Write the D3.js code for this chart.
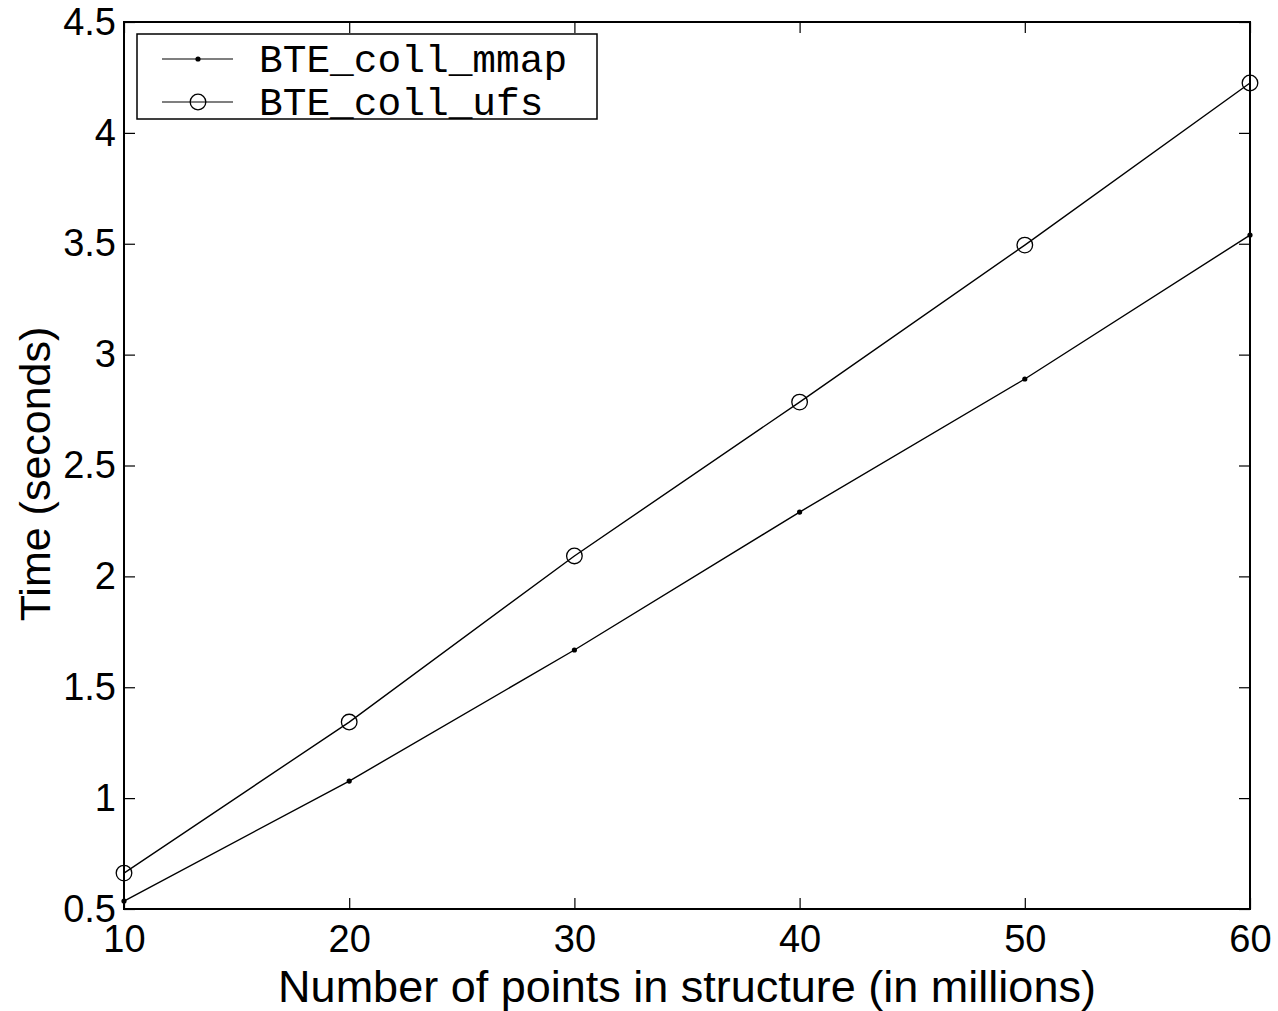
<!DOCTYPE html>
<html>
<head>
<meta charset="utf-8">
<script src="https://cdn.jsdelivr.net/npm/d3@7"></script>
<style>
  body { margin: 0; background: #fff; }
  svg { display: block; }
  .tick text { font-family: "Liberation Sans", Arial, sans-serif; font-size: 38px; fill: #000; }
</style>
</head>
<body>
<div id="chart"></div>
<script>
// data
var xValues = [10, 20, 30, 40, 50, 60];
var mmapTimes = [0.536, 1.077, 1.668, 2.290, 2.890, 3.539];
var ufsTimes = [0.662, 1.343, 2.092, 2.786, 3.494, 4.225];
var seriesNames = ["BTE_coll_mmap", "BTE_coll_ufs"];
var xTicks = [10, 20, 30, 40, 50, 60];
var yTicks = [0.5, 1, 1.5, 2, 2.5, 3, 3.5, 4, 4.5];

var width = 1278, height = 1011;
var margin = {top: 22, right: 28, bottom: 102, left: 124};
var plotW = width - margin.left - margin.right;
var plotH = height - margin.top - margin.bottom;

var svg = d3.select("#chart").append("svg")
    .attr("width", width)
    .attr("height", height);

var g = svg.append("g")
    .attr("transform", "translate(" + margin.left + "," + margin.top + ")");

var x = d3.scaleLinear().domain([10, 60]).range([0, plotW]);
var y = d3.scaleLinear().domain([0.5, 4.5]).range([plotH, 0]);

var tickLen = 11;

// bottom axis, ticks pointing inside
var xAxis = g.append("g")
    .attr("transform", "translate(0," + plotH + ")")
    .call(d3.axisBottom(x).tickValues(xTicks).tickSizeInner(-tickLen).tickSizeOuter(0).tickPadding(16)
        .tickFormat(d3.format("d")));
xAxis.select(".domain").remove();

// top ticks
var xTop = g.append("g")
    .call(d3.axisTop(x).tickValues(xTicks).tickSizeInner(-tickLen).tickSizeOuter(0).tickFormat(""));
xTop.select(".domain").remove();

// left axis
var yAxis = g.append("g")
    .call(d3.axisLeft(y).tickValues(yTicks).tickSizeInner(-tickLen).tickSizeOuter(0).tickPadding(8)
        .tickFormat(function (d) { return String(d); }));
yAxis.select(".domain").remove();

// right ticks
var yRight = g.append("g")
    .attr("transform", "translate(" + plotW + ",0)")
    .call(d3.axisRight(y).tickValues(yTicks).tickSizeInner(-tickLen).tickSizeOuter(0).tickFormat(""));
yRight.select(".domain").remove();

g.selectAll(".tick line").attr("stroke", "#000").attr("stroke-width", 1.2);

// box around the plot
g.append("rect")
    .attr("x", 0).attr("y", 0)
    .attr("width", plotW).attr("height", plotH)
    .attr("fill", "none")
    .attr("stroke", "#000")
    .attr("stroke-width", 2);

var line = d3.line()
    .x(function (d) { return x(d[0]); })
    .y(function (d) { return y(d[1]); });

var mmapData = xValues.map(function (v, i) { return [v, mmapTimes[i]]; });
var ufsData = xValues.map(function (v, i) { return [v, ufsTimes[i]]; });

g.append("path").datum(mmapData)
    .attr("d", line).attr("fill", "none").attr("stroke", "#000").attr("stroke-width", 1.4);
g.append("path").datum(ufsData)
    .attr("d", line).attr("fill", "none").attr("stroke", "#000").attr("stroke-width", 1.4);

g.selectAll("circle.mmap").data(mmapData).enter().append("circle")
    .attr("class", "mmap")
    .attr("cx", function (d) { return x(d[0]); })
    .attr("cy", function (d) { return y(d[1]); })
    .attr("r", 2.6)
    .attr("fill", "#000");

g.selectAll("circle.ufs").data(ufsData).enter().append("circle")
    .attr("class", "ufs")
    .attr("cx", function (d) { return x(d[0]); })
    .attr("cy", function (d) { return y(d[1]); })
    .attr("r", 7.8)
    .attr("fill", "none")
    .attr("stroke", "#000")
    .attr("stroke-width", 1.3);

// axis labels
svg.append("text")
    .attr("x", margin.left + plotW / 2)
    .attr("y", 1002)
    .attr("text-anchor", "middle")
    .style("font-family", "'Liberation Sans', Arial, sans-serif")
    .style("font-size", "45px")
    .text("Number of points in structure (in millions)");

svg.append("text")
    .attr("transform", "translate(50,474) rotate(-90)")
    .attr("text-anchor", "middle")
    .style("font-family", "'Liberation Sans', Arial, sans-serif")
    .style("font-size", "43px")
    .text("Time (seconds)");

// legend
var legend = svg.append("g").attr("transform", "translate(137,34)");
legend.append("rect")
    .attr("width", 460).attr("height", 85)
    .attr("fill", "#fff")
    .attr("stroke", "#000")
    .attr("stroke-width", 1.5);

seriesNames.forEach(function (name, i) {
    var ly = 25 + i * 43;
    legend.append("line")
        .attr("x1", 25).attr("x2", 96)
        .attr("y1", ly).attr("y2", ly)
        .attr("stroke", "#000").attr("stroke-width", 1.2);
    if (i === 0) {
        legend.append("circle").attr("cx", 61).attr("cy", ly).attr("r", 2.6).attr("fill", "#000");
    } else {
        legend.append("circle").attr("cx", 61).attr("cy", ly).attr("r", 7.8)
            .attr("fill", "none").attr("stroke", "#000").attr("stroke-width", 1.3);
    }
    legend.append("text")
        .attr("x", 122).attr("y", ly + 13)
        .style("font-family", "'Liberation Mono', 'DejaVu Sans Mono', monospace")
        .style("font-size", "39.5px")
        .text(name);
});
</script>
</body>
</html>
